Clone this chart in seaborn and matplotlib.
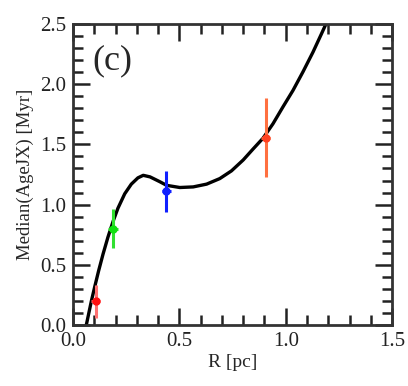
import numpy as np
import matplotlib
matplotlib.use("Agg")
import matplotlib.pyplot as plt
from matplotlib.ticker import MultipleLocator, FormatStrFormatter
import seaborn as sns

# fitted curve
curve_r = [0.062, 0.086, 0.102, 0.120, 0.141, 0.164, 0.188, 0.211, 0.243,
           0.274, 0.305, 0.330, 0.362, 0.408, 0.440, 0.502, 0.565, 0.628,
           0.690, 0.745, 0.800, 0.846, 0.893, 0.940, 0.987, 1.034, 1.081,
           1.128, 1.168, 1.190]
curve_age = [0.00, 0.20, 0.32, 0.45, 0.59, 0.73, 0.86, 0.97, 1.09,
             1.17, 1.222, 1.243, 1.23, 1.19, 1.16, 1.142, 1.147, 1.17,
             1.216, 1.28, 1.37, 1.46, 1.55, 1.67, 1.81, 1.946, 2.10,
             2.263, 2.415, 2.50]

# binned medians with errors
pt_r = [0.106, 0.188, 0.438, 0.906]
pt_age = [0.20, 0.80, 1.11, 1.555]
pt_err = [0.135, 0.16, 0.17, 0.33]
pt_colors = ["#ff1010", "#10e010", "#1020ff", "#ff4020"]
err_colors = ["#ff7070", "#30e030", "#1020ff", "#ff7040"]

sns.set_style("ticks")
plt.rcParams["font.family"] = ["Liberation Serif", "DejaVu Serif"]
plt.rcParams["axes.linewidth"] = 2.0

fig = plt.figure(figsize=(4.08, 3.86), dpi=100)
ax = fig.add_axes([0.179, 0.157, 0.782, 0.782])

sns.lineplot(x=curve_r, y=curve_age, color="black", linewidth=2.4,
             sort=False, ax=ax)

for r, a, e, c, ec in zip(pt_r, pt_age, pt_err, pt_colors, err_colors):
    ax.errorbar(r, a, yerr=e, xerr=0.022, fmt="o", color=c, ecolor=ec,
                elinewidth=2.2, markersize=5, capsize=0, zorder=3)

ax.set_xlim(0, 1.5)
ax.set_ylim(0, 2.5)
ax.xaxis.set_major_locator(MultipleLocator(0.5))
ax.xaxis.set_minor_locator(MultipleLocator(0.1))
ax.yaxis.set_major_locator(MultipleLocator(0.5))
ax.yaxis.set_minor_locator(MultipleLocator(0.1))
ax.xaxis.set_major_formatter(FormatStrFormatter("%.1f"))
ax.yaxis.set_major_formatter(FormatStrFormatter("%.1f"))
ax.tick_params(which="both", direction="in", top=True, right=True,
               labelsize=15, colors="#222222")
ax.tick_params(which="major", length=12, width=1.8, pad=5)
ax.tick_params(which="minor", length=7, width=1.8)
for s in ax.spines.values():
    s.set_color("#333333")

ax.set_xlabel("R [pc]", fontsize=14, labelpad=2)
ax.set_ylabel("Median(AgeJX) [Myr]", fontsize=13.5, labelpad=4)
ax.text(0.06, 0.93, "(c)", transform=ax.transAxes, fontsize=26,
        ha="left", va="top")

plt.savefig("out.png", dpi=100)
plt.close()
